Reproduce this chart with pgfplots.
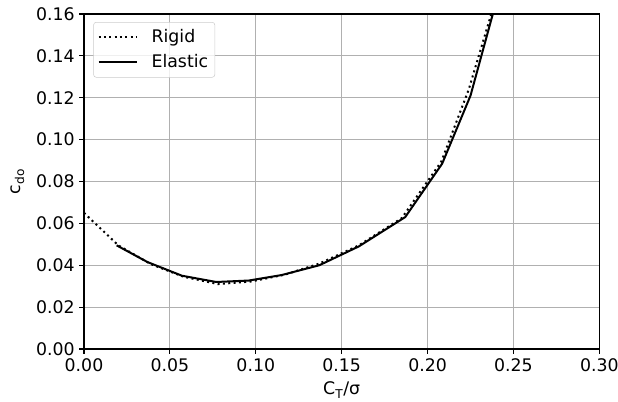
\documentclass[border=0pt]{standalone}
\usepackage{fontspec}
\setmainfont{DejaVu Sans}
\usepackage{pgfplots}
\pgfplotsset{compat=1.18}

\begin{document}
\begin{tikzpicture}
\begin{axis}[
    width=386.5pt, height=251.25pt,
    scale only axis,
    xmin=0, xmax=0.30, ymin=0, ymax=0.16,
    xtick={0,0.05,...,0.301},
    ytick={0,0.02,...,0.161},
    xticklabel style={/pgf/number format/.cd, fixed, fixed zerofill, precision=2},
    yticklabel style={/pgf/number format/.cd, fixed, fixed zerofill, precision=2},
    /pgf/number format/assume math mode=true,
    scaled ticks=false,
    tick align=outside,
    tick pos=left,
    major tick length=3.5pt,
    tick style={black, line width=0.8pt},
    grid=major,
    grid style={color=black!31, line width=0.8pt},
    axis line style={line width=0.8pt},
    font=\fontsize{13}{15}\selectfont,
    xlabel={C\textsubscript{T}/σ},
    ylabel={c\textsubscript{do}},
    xlabel style={at={(axis description cs:0.5,-0.1373)}, anchor=base},
    ylabel style={at={(axis description cs:-0.129,0.5)}, anchor=center},
    legend cell align=left,
    legend style={draw=black!20, rounded corners=2pt, fill=white, fill opacity=0.8, text opacity=1,
        inner xsep=3pt, inner ysep=3.5pt, row sep=3.5pt, column sep=8pt,
        at={(axis description cs:0.0181,0.976)}, anchor=north west,
        font=\fontsize{13}{15}\selectfont},
    legend image code/.code={\draw[#1] (0pt,0pt) -- (29pt,0pt);},
    clip=true,
]
\addplot[black, dash pattern=on 1.5pt off 2.5pt, line width=1.5pt] coordinates {
    (0.000,0.065) (0.020,0.0495) (0.039,0.0405) (0.058,0.0345) (0.078,0.031)
    (0.097,0.0322) (0.117,0.0355) (0.137,0.0408) (0.160,0.0495) (0.185,0.0625)
    (0.208,0.0895) (0.224,0.124) (0.240,0.168) (0.250,0.200)
};
\addlegendentry{Rigid}
\addplot[black, line width=1.5pt] coordinates {
    (0.019,0.0495) (0.037,0.0415) (0.057,0.035) (0.077,0.032) (0.096,0.0327)
    (0.115,0.0353) (0.137,0.040) (0.160,0.0490) (0.187,0.063) (0.2085,0.0885)
    (0.225,0.121) (0.240,0.166) (0.250,0.200)
};
\addlegendentry{Elastic}
\end{axis}
\pgfresetboundingbox
\useasboundingbox ([shift={(-63pt,-39.75pt)}]current axis.south west)
    rectangle ([shift={(14pt,10.5pt)}]current axis.north east);
\end{tikzpicture}
\end{document}
